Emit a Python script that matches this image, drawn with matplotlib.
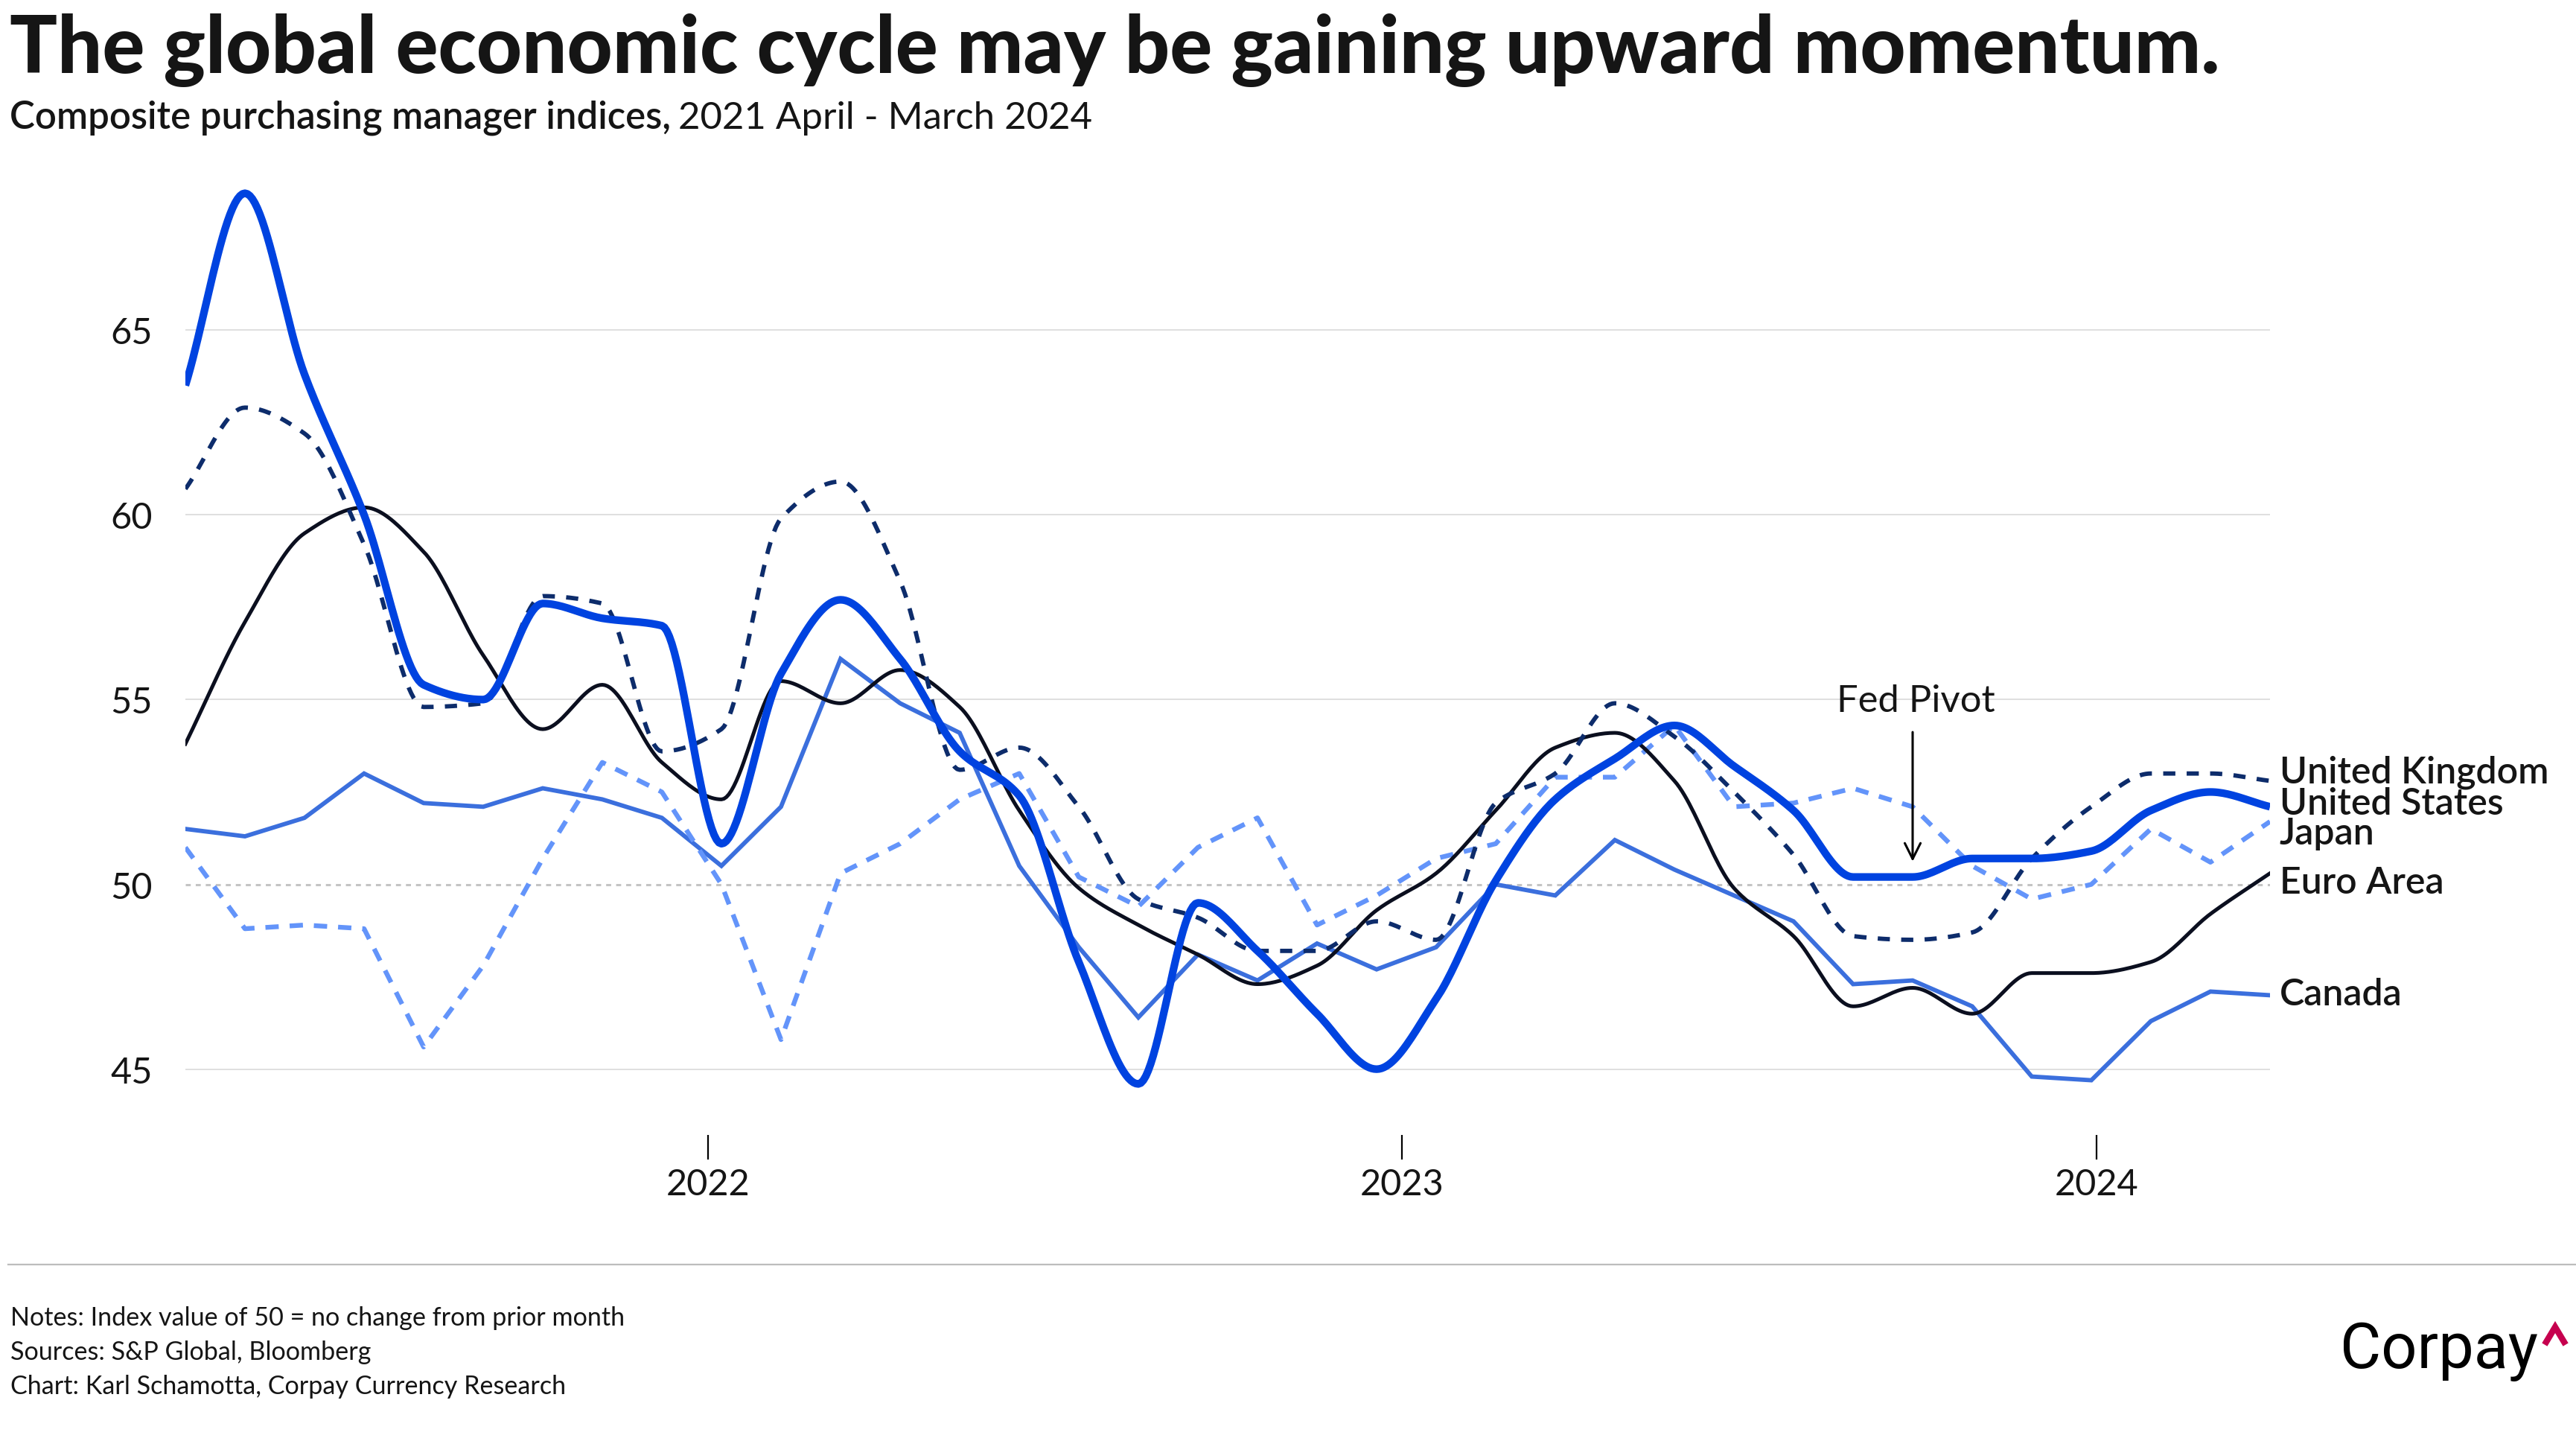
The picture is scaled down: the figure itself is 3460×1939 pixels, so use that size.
import numpy as np
import matplotlib.pyplot as plt
from matplotlib.lines import Line2D

# Composite PMIs, monthly Apr 2021 .. Mar 2024
MONTHS = np.arange(36)
US = [63.5, 68.7, 63.8, 60.0, 55.4, 55.0, 57.6, 57.2, 57.0, 51.1, 55.7, 57.7,
      56.1, 53.6, 52.4, 47.9, 44.6, 49.5, 48.2, 46.5, 45.0, 46.9, 50.1, 52.3,
      53.4, 54.3, 53.2, 52.0, 50.2, 50.2, 50.7, 50.7, 50.9, 52.0, 52.5, 52.1]
UK = [60.7, 62.9, 62.2, 59.2, 54.8, 54.9, 57.8, 57.6, 53.6, 54.2, 59.9, 60.9,
      58.2, 53.1, 53.7, 52.1, 49.6, 49.1, 48.2, 48.2, 49.0, 48.5, 52.2, 53.0,
      54.9, 54.0, 52.5, 50.8, 48.6, 48.5, 48.7, 50.7, 52.1, 53.0, 53.0, 52.8]
EURO = [53.8, 57.1, 59.5, 60.2, 59.0, 56.2, 54.2, 55.4, 53.3, 52.3, 55.5, 54.9,
        55.8, 54.8, 52.0, 49.9, 48.9, 48.1, 47.3, 47.8, 49.3, 50.3, 52.0, 53.7,
        54.1, 52.8, 49.9, 48.6, 46.7, 47.2, 46.5, 47.6, 47.6, 47.9, 49.2, 50.3]
JAPAN = [51.0, 48.8, 48.9, 48.8, 45.6, 47.8, 50.7, 53.3, 52.5, 50.0, 45.8, 50.3,
         51.1, 52.3, 53.0, 50.2, 49.4, 51.0, 51.8, 48.9, 49.7, 50.7, 51.1, 52.9,
         52.9, 54.3, 52.1, 52.2, 52.6, 52.1, 50.5, 49.6, 50.0, 51.5, 50.6, 51.7]
CANADA = [51.5, 51.3, 51.8, 53.0, 52.2, 52.1, 52.6, 52.3, 51.8, 50.5, 52.1, 56.1,
          54.9, 54.1, 50.5, 48.3, 46.4, 48.1, 47.4, 48.4, 47.7, 48.3, 50.0, 49.7,
          51.2, 50.4, 49.7, 49.0, 47.3, 47.4, 46.7, 44.8, 44.7, 46.3, 47.1, 47.0]

YEAR_TICKS = [8.78, 20.43, 32.09]
YEAR_LABELS = ["2022", "2023", "2024"]
Y_TICKS = [45, 50, 55, 60, 65]

FONT = "Lato"
INK = "#151515"


def monotone(x, y, n=24):
    """Fritsch-Carlson monotone cubic, like d3.curveMonotoneX."""
    x = np.asarray(x, float)
    y = np.asarray(y, float)
    h = np.diff(x)
    d = np.diff(y) / h
    m = np.zeros_like(y)
    m[0], m[-1] = d[0], d[-1]
    for k in range(1, len(y) - 1):
        if d[k - 1] * d[k] <= 0:
            m[k] = 0
        else:
            w1 = 2 * h[k] + h[k - 1]
            w2 = h[k] + 2 * h[k - 1]
            m[k] = (w1 + w2) / (w1 / d[k - 1] + w2 / d[k])
    xs, ys = [], []
    for k in range(len(x) - 1):
        t = np.linspace(0, 1, n, endpoint=False)
        h00 = 2 * t**3 - 3 * t**2 + 1
        h10 = t**3 - 2 * t**2 + t
        h01 = -2 * t**3 + 3 * t**2
        h11 = t**3 - t**2
        xs.append(x[k] + t * h[k])
        ys.append(h00 * y[k] + h10 * h[k] * m[k] + h01 * y[k + 1] + h11 * h[k] * m[k + 1])
    xs.append([x[-1]])
    ys.append([y[-1]])
    return np.concatenate(xs), np.concatenate(ys)


fig = plt.figure(figsize=(34.6, 19.4), dpi=100)
ax = fig.add_axes([249 / 3460, 1 - 1525 / 1940, 2800 / 3460, (1525 - 196) / 1940])
ax.set_xlim(0, 35)
ax.set_ylim(43.22, 70)

for v in Y_TICKS:
    if v == 50:
        ax.axhline(v, color="#c4c4c4", lw=2.2, ls=(0, (2.2, 2.2)), zorder=1)
    else:
        ax.axhline(v, color="#d6d6d6", lw=1.1, zorder=1)

ax.plot(MONTHS, CANADA, color="#3b6fdd", lw=4.2, zorder=3, solid_joinstyle="miter")
ax.plot(MONTHS, JAPAN, color="#6394fa", lw=4.6, dashes=(2.8, 2.3), zorder=3)
ex, ey = monotone(MONTHS, EURO)
ax.plot(ex, ey, color="#0b0f1f", lw=3.6, zorder=4)
ux, uy = monotone(MONTHS, UK)
ax.plot(ux, uy, color="#0d2c6b", lw=4.2, dashes=(2.8, 2.6), zorder=4)
sx, sy = monotone(MONTHS, US)
ax.plot(sx, sy, color="#0043e0", lw=7.4, zorder=5, solid_capstyle="butt")

# end labels
labels = [("United Kingdom", 53.04), ("United States", 52.19), ("Japan", 51.39),
          ("Euro Area", 50.06), ("Canada", 47.03)]
for name, yv in labels:
    ax.text(35.16, yv, name, fontsize=36, family=FONT, weight="semibold",
            color=INK, va="center", ha="left", clip_on=False)

# Fed pivot annotation
ax.annotate("", xy=(29, 50.62), xytext=(29, 54.12),
            arrowprops=dict(arrowstyle="->", lw=2.2, color="black",
                            mutation_scale=38, shrinkA=0, shrinkB=0))
ax.text(29.05, 54.96, "Fed Pivot", fontsize=36.5, family=FONT, color=INK,
        ha="center", va="center")

ax.set_yticks(Y_TICKS)
ax.set_yticklabels([str(v) for v in Y_TICKS])
ax.set_xticks(YEAR_TICKS)
ax.set_xticklabels(YEAR_LABELS)
ax.tick_params(axis="y", length=0, pad=32, labelsize=35, labelcolor=INK)
ax.tick_params(axis="x", length=24, width=1.6, color="black", pad=8,
               labelsize=35, labelcolor=INK)
for lab in ax.get_xticklabels() + ax.get_yticklabels():
    lab.set_family(FONT)
for s in ax.spines.values():
    s.set_visible(False)

# headings
fig.text(13 / 3460, 1 - 98 / 1940,
         "The global economic cycle may be gaining upward momentum.",
         fontsize=76.5, family=FONT, weight="black", color=INK, va="baseline")
sub1 = fig.text(13 / 3460, 1 - 173 / 1940, "Composite purchasing manager indices,",
                fontsize=36.6, family=FONT, weight="semibold", color=INK, va="baseline")
fig.canvas.draw()
bb = sub1.get_window_extent(fig.canvas.get_renderer())
fig.text(bb.x1 / 3460 + 10 / 3460, 1 - 173 / 1940, "2021 April - March 2024",
         fontsize=36.6, family=FONT, color=INK, va="baseline")

# footer
fig.add_artist(Line2D([11 / 3460, 1], [1 - 1699 / 1940] * 2,
                      transform=fig.transFigure, color="#bdbdbd", lw=1.6))
notes = ["Notes: Index value of 50 = no change from prior month",
         "Sources: S&P Global, Bloomberg",
         "Chart: Karl Schamotta, Corpay Currency Research"]
for k, line in enumerate(notes):
    fig.text(14 / 3460, 1 - (1780 + 46 * k) / 1940, line, fontsize=24.6,
             family=FONT, color=INK, va="baseline")

# logo
fig.text(3143 / 3460, 1 - 1837 / 1940, "Corpay", fontsize=61, family="Roboto",
         color="black", va="baseline")
fig.add_artist(Line2D([3420 / 3460, 3432 / 3460, 3444 / 3460],
                      [1 - 1803 / 1940, 1 - 1783 / 1940, 1 - 1803 / 1940],
                      transform=fig.transFigure, color="#c6004e", lw=6,
                      solid_joinstyle="miter"))

fig.savefig("out.png", dpi=100, facecolor="white")
